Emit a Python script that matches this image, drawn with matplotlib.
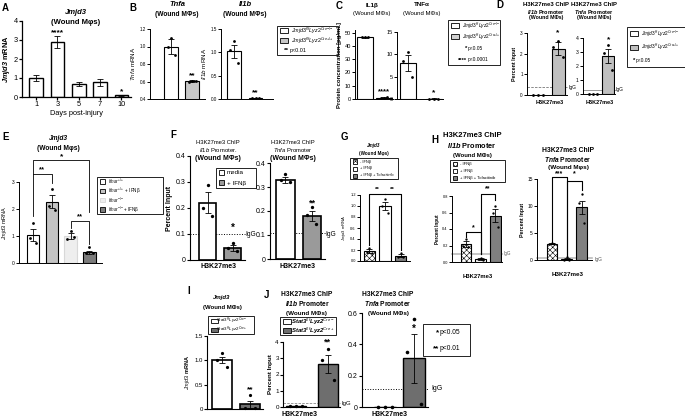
import matplotlib.pyplot as plt
import numpy as np
from matplotlib.patches import Rectangle

plt.rcParams["font.family"] = ["Liberation Sans", "DejaVu Sans"]
plt.rcParams["mathtext.fontset"] = "custom"
plt.rcParams["mathtext.rm"] = "Liberation Sans"
plt.rcParams["mathtext.it"] = "Liberation Sans:italic"
plt.rcParams["mathtext.bf"] = "Liberation Sans:bold"
plt.rcParams["mathtext.bfit"] = "Liberation Sans:italic:bold"
plt.rcParams["hatch.linewidth"] = 0.4

# ---- data ----
# A: Jmjd3 over days post-injury
a_days = ["1", "3", "5", "7", "10"]
a_mean = [1.0, 2.9, 0.68, 0.78, 0.08]
a_sem = [0.14, 0.3, 0.1, 0.18, 0.03]

# B: Jmjd3 f/f Lyz2 Cre-/- vs Cre+/+
b_tnfa_mean = [1.0, 0.605]
b_tnfa_sem = [0.09, 0.008]
b_tnfa_pts = [[1.1, 0.99, 0.9], [0.61, 0.6, 0.61]]
b_il1b_mean = [1.02, 0.02]
b_il1b_sem = [0.14, 0.005]
b_il1b_pts = [[1.25, 1.04, 0.78], [0.02, 0.02, 0.02]]

# C: protein (pg/mL)
c_il1b_mean = [46.5, 1.0]
c_il1b_sem = [0.3, 0.3]
c_il1b_pts = [[46.6, 46.4, 46.5], [0.6, 1.1, 1.4]]
c_tnfa_mean = [8.0, 0.1]
c_tnfa_sem = [1.8, 0.05]
c_tnfa_pts = [[10.5, 8.6, 4.9], [0.1, 0.1, 0.1]]

# D: H3K27me3 ChIP
d_il1b_mean = [0.0, 2.25]
d_il1b_sem = [0.0, 0.3]
d_il1b_pts = [[0.0, 0.0, 0.0], [2.6, 2.3, 1.85]]
d_il1b_igg = 0.38
d_tnfa_mean = [0.0, 2.7]
d_tnfa_sem = [0.0, 0.5]
d_tnfa_pts = [[0.0, 0.0, 0.0], [3.5, 2.9, 1.7]]
d_tnfa_igg = 0.3

# E: Ifnar +/+ , +/+ + IFNb, -/-, -/- + IFNb
e_mean = [1.05, 2.27, 1.0, 0.4]
e_sem = [0.22, 0.25, 0.1, 0.05]
e_pts = [[1.5, 0.93, 0.75], [2.75, 2.12, 1.95], [1.18, 0.88, 0.97], [0.58, 0.38, 0.36]]

# F: media vs + IFNb
f_il1b_mean = [0.22, 0.047]
f_il1b_sem = [0.04, 0.012]
f_il1b_pts = [[0.29, 0.2, 0.17], [0.065, 0.045, 0.035]]
f_il1b_igg = 0.1
f_tnfa_mean = [0.33, 0.18]
f_tnfa_sem = [0.012, 0.022]
f_tnfa_pts = [[0.355, 0.33, 0.32], [0.215, 0.185, 0.145]]
f_tnfa_igg = 0.11

# G: - IFNb, + IFNb, + IFNb + Tofacitinib
g_mean = [0.18, 1.0, 0.1]
g_sem = [0.04, 0.08, 0.02]
g_pts = [[0.23, 0.17, 0.15], [1.12, 1.0, 0.88], [0.15, 0.08, 0.08]]

# H
h_il1b_mean = [0.22, 0.04, 0.56]
h_il1b_sem = [0.04, 0.01, 0.08]
h_il1b_pts = [[0.28, 0.2, 0.18], [0.05, 0.04, 0.03], [0.68, 0.6, 0.42]]
h_il1b_igg = 0.1
h_tnfa_mean = [3.0, 0.2, 9.8]
h_tnfa_sem = [0.1, 0.15, 1.2]
h_tnfa_pts = [[3.1, 3.0, 2.9], [0.5, 0.05, 0.05], [12.2, 10.5, 6.8]]
h_tnfa_igg = 0.3

# I: Stat3 f/f Lyz2 Cre- vs Cre+
i_mean = [1.0, 0.1]
i_sem = [0.06, 0.07]
i_pts = [[1.15, 1.0, 0.86], [0.28, 0.02, 0.02]]

# J
j_il1b_mean = [0.05, 2.65]
j_il1b_sem = [0.0, 0.55]
j_il1b_pts = [[0.05, 0.05, 0.05], [3.6, 2.9, 1.65]]
j_il1b_igg = 0.25
j_tnfa_mean = [0.0, 0.31]
j_tnfa_sem = [0.0, 0.155]
j_tnfa_pts = [[0.0, 0.0, 0.0], [0.56, 0.35, 0.02]]
j_tnfa_igg = 0.115

W, H = 685, 418
fig = plt.figure(figsize=(W / 100, H / 100), dpi=100)


def panel(l, t, r, b, xlim, ylim, yticks, fs, lw=0.7, labels=None):
    ax = fig.add_axes([l / W, 1 - b / H, (r - l) / W, (b - t) / H])
    ax.patch.set_alpha(0)
    for s in ("top", "right"):
        ax.spines[s].set_visible(False)
    for s in ("left", "bottom"):
        ax.spines[s].set_linewidth(lw)
    ax.set_xlim(*xlim)
    ax.set_ylim(*ylim)
    ax.set_yticks(yticks)
    if labels is not None:
        ax.set_yticklabels(labels)
    ax.set_xticks([])
    ax.tick_params(axis="y", length=2, width=lw, labelsize=fs, pad=1)
    return ax


def bars(ax, mean, sem, pts, colors, hatches=None, width=0.65, lw=0.8, ms=2.0, spread=0.17,
         edges=None):
    hatches = hatches or [None] * len(mean)
    edges = edges or ["black"] * len(mean)
    for i in range(len(mean)):
        ax.bar(i, mean[i], width, color=colors[i], edgecolor=edges[i], linewidth=lw,
               hatch=hatches[i], zorder=2)
    ax.errorbar(range(len(mean)), mean, yerr=sem, fmt="none", ecolor="black",
                elinewidth=0.6, capsize=2, capthick=0.6, zorder=3)
    if pts is not None:
        for i, p in enumerate(pts):
            off = np.array([0, -spread, spread])
            ax.plot(i + off, p, "o", ms=ms, color="black", mew=0, zorder=4, clip_on=False)


def bracket(ax, x1, x2, y, y1, y2, lw=0.6):
    ax.plot([x1, x1, x2, x2], [y1, y, y, y2], color="black", lw=lw, clip_on=False)


def star(ax, x, y, s, fs=6):
    ax.text(x, y, s, ha="center", va="bottom", fontsize=fs, fontweight="bold")


def txt(x, y, s, fs=5, **kw):
    kw.setdefault("ha", "center")
    kw.setdefault("va", "center")
    fig.text(x / W, 1 - y / H, s, fontsize=fs, **kw)


def igg(ax, y, style, color, lw=0.6):
    ax.axhline(y, ls=style, color=color, lw=lw, zorder=1, clip_on=False)


def key(l, t, r, b, rows, fs, sw=7, sh=5, tx=None):
    fig.add_artist(Rectangle((l / W, 1 - b / H), (r - l) / W, (b - t) / H,
                             transform=fig.transFigure, fill=False, lw=0.6, ec="black"))
    tx = tx if tx is not None else l + sw + 6
    n = len(rows)
    step = (b - t) / n
    for k, row in enumerate(rows):
        y = t + step * (k + 0.5)
        if row[0] == "patch":
            _, face, hatch, label = row[:4]
            ec = row[4] if len(row) > 4 else "black"
            fig.add_artist(Rectangle(((l + 3) / W, 1 - (y + sh / 2) / H), sw / W, sh / H,
                                     transform=fig.transFigure, fc=face, ec=ec,
                                     lw=0.6, hatch=hatch))
            txt(tx, y, label, fs, ha="left")
        else:
            _, stars, label, sx = row
            txt(sx, y + 0.6, stars, fs * 1.2, ha="right", fontweight="bold")
            txt(sx + 1, y, label, fs, ha="left")


def plabel(x, y, s):
    txt(x, y, s, 7, fontweight="bold")


lyz_m = r"$\mathit{Jmjd3}^{f/f}\mathit{Lyz2}^{Cre{-}/{-}}$"
lyz_p = r"$\mathit{Jmjd3}^{f/f}\mathit{Lyz2}^{Cre{+}/{+}}$"

# ---------- A ----------
plabel(5, 8, "A")
txt(76, 13, "Jmjd3", 5.5, fontweight="bold", style="italic")
txt(76, 23, "(Wound Mφs)", 5.5, fontweight="bold")
axA = panel(22, 21, 131, 97, (-0.66, 4.45), (0, 4), [0, 1, 2, 3, 4], 5.3, lw=0.9)
bars(axA, a_mean, a_sem, None, ["white"] * 5, width=0.64, lw=1.0)
axA.set_xticks(range(5))
axA.set_xticklabels(a_days)
axA.tick_params(axis="x", length=2, width=0.9, labelsize=5.3, pad=1)
axA.set_xlabel("Days post-injury", fontsize=5.3, labelpad=1)
axA.set_ylabel(r"$\mathbfit{Jmjd3}$ mRNA", fontsize=5.3, fontweight="bold", labelpad=1)
star(axA, 1, 3.2, "****", 6)
star(axA, 4, 0.1, "*", 6)

# ---------- B ----------
plabel(133, 8, "B")
txt(177, 5, "Tnfa", 5.5, fontweight="bold", style="italic")
txt(177, 15, "(Wound MΦs)", 4.8, fontweight="bold")
axB1 = panel(150, 29, 205, 99, (-1.0, 1.6), (0.4, 1.2), [0.4, 0.6, 0.8, 1.0, 1.2], 3.3,
             labels=["0.4", "0.6", "0.8", "1.0", "1.2"])
bars(axB1, b_tnfa_mean, b_tnfa_sem, b_tnfa_pts, ["white", "#c8c8c8"], width=0.67)
axB1.set_ylabel(r"$\mathit{Tnfa}$ mRNA", fontsize=4.5, labelpad=2)
star(axB1, 1, 0.63, "**", 6)

txt(245, 5, "Il1b", 5.5, fontweight="bold", style="italic")
txt(245, 15, "(Wound MΦs)", 4.8, fontweight="bold")
axB2 = panel(221, 29, 273, 99, (-0.6, 1.8), (0, 1.5), [0, 0.5, 1.0, 1.5], 3.3,
             labels=["0.0", "0.5", "1.0", "1.5"])
bars(axB2, b_il1b_mean, b_il1b_sem, b_il1b_pts, ["white", "#c8c8c8"], width=0.62)
axB2.set_ylabel(r"$\mathit{Il1b}$ mRNA", fontsize=4.5, labelpad=2)
star(axB2, 1, 0.05, "**", 6)

key(277, 26, 338, 55, [("patch", "white", None, lyz_m),
                       ("patch", "#c8c8c8", None, lyz_p),
                       ("stars", "**", "p<0.01", 289)], 3.9, sw=8, sh=5)

# ---------- C ----------
plabel(339, 6, "C")
txt(372, 5, "IL1β", 4.5, fontweight="bold")
txt(372, 13, "(Wound MΦs)", 4.3)
axC1 = panel(355, 30, 393, 99, (-0.53, 1.47), (0, 52), [0, 10, 20, 30, 40, 50], 4.0)
bars(axC1, c_il1b_mean, c_il1b_sem, c_il1b_pts, ["white", "#d0d0d0"], width=0.8)
axC1.set_ylabel("Protein concentration [pg/mL]", fontsize=4.3, fontweight="bold", labelpad=2)
star(axC1, 1, 2.5, "****", 5.5)

txt(422, 5, "TNFα", 4.5, fontweight="bold")
txt(422, 13, "(Wound MΦs)", 4.3)
axC2 = panel(397, 32, 443, 99, (-0.42, 1.35), (0, 15), [0, 5, 10, 15], 4.0)
bars(axC2, c_tnfa_mean, c_tnfa_sem, c_tnfa_pts, ["white", "#d0d0d0"], width=0.6)
star(axC2, 1, 0.6, "*", 6)

key(448, 20, 500, 65, [("patch", "white", None, lyz_m),
                       ("patch", "#d0d0d0", None, lyz_p),
                       ("stars", "*", "p<0.05", 467),
                       ("stars", "****", "p<0.0001", 467)], 3.5, sw=8, sh=5)

# ---------- D ----------
plabel(500, 5, "D")
txt(546, 5, "H3K27me3 ChIP", 4.3, fontweight="bold")
txt(546, 12, r"$\mathbfit{Il1b}$ Promoter", 4.0, fontweight="bold")
txt(546, 18, "(Wound MΦs)", 3.8, fontweight="bold")
axD1 = panel(527, 33, 567, 95, (-0.55, 1.45), (0, 3), [0, 1, 2, 3], 3.3)
bars(axD1, d_il1b_mean, d_il1b_sem, d_il1b_pts, ["white", "#c0c0c0"], width=0.65, spread=0.25)
igg(axD1, d_il1b_igg, (0, (3, 1.5)), "#777777")
axD1.set_ylabel("Percent Input", fontsize=3.8, fontweight="bold", labelpad=2)
txt(572, 87, "IgG", 3.5)
txt(550, 102, "H3K27me3", 4.0, fontweight="bold")
star(axD1, 1, 2.85, "*", 6)

txt(594, 5, "H3K27me3 ChIP", 4.3, fontweight="bold")
txt(594, 12, r"$\mathbfit{Tnfa}$ Promoter", 4.0, fontweight="bold")
txt(594, 18, "(Wound MΦs)", 3.8, fontweight="bold")
axD2 = panel(583, 38, 615, 94, (-0.65, 1.45), (0, 4), [0, 1, 2, 3, 4], 3.6)
bars(axD2, d_tnfa_mean, d_tnfa_sem, d_tnfa_pts, ["white", "#c0c0c0"], width=0.75, spread=0.25)
igg(axD2, d_tnfa_igg, "-", "#888888")
txt(619, 90, "IgG", 3.5)
txt(600, 102, "H3K27me3", 4.0, fontweight="bold")
star(axD2, 1, 3.6, "*", 6)

key(627, 27, 685, 67, [("patch", "white", None, lyz_m),
                       ("patch", "#c0c0c0", None, lyz_p),
                       ("stars", "*", "p<0.05", 635)], 3.5, sw=8, sh=5)

# ---------- E ----------
plabel(6, 137, "E")
txt(58, 139, "Jmjd3", 4.8, fontweight="bold", style="italic")
txt(58, 148, "(Wound Mφs)", 4.8, fontweight="bold")
axE = panel(19, 182, 102, 263, (-0.74, 3.67), (0, 3), [0, 1, 2, 3], 3.5)
bars(axE, e_mean, e_sem, e_pts, ["white", "#c4c4c4", "#eeeeee", "#7c7c7c"], width=0.66,
     edges=["black", "black", "#d8d8d8", "black"])
axE.set_ylabel(r"$\mathit{Jmjd3}$ mRNA", fontsize=4.0, labelpad=2)
bracket(axE, 0, 1, 3.3, 1.75, 2.95)
star(axE, 0.5, 3.32, "**", 5.5)
bracket(axE, 0, 3, 3.8, 3.3, 1.9)
star(axE, 1.5, 3.82, "*", 6)
bracket(axE, 2, 3, 1.55, 1.3, 0.7)
star(axE, 2.5, 1.57, "**", 5.5)
key(97, 177, 163, 214, [("patch", "white", None, r"$Ifnar^{+/+}$"),
                        ("patch", "#c4c4c4", None, r"$Ifnar^{+/+}$ + IFNβ"),
                        ("patch", "#eeeeee", None, r"$Ifnar^{-/-}$", "#d8d8d8"),
                        ("patch", "#7c7c7c", None, r"$Ifnar^{-/-}$+ IFNβ")], 3.3, sw=5, sh=4.5)

# ---------- F ----------
plabel(173, 135, "F")
txt(218, 142, "H3K27me3 ChIP", 4.2)
txt(218, 150, r"$\mathit{Il1b}$ Promoter.", 4.2)
txt(218, 158, "(Wound MΦs)", 5.0, fontweight="bold")
axF1 = panel(190, 156, 245, 260, (-0.7, 1.5), (0, 0.4), [0, 0.1, 0.2, 0.3, 0.4], 5.0,
             labels=["0", "0.1", "0.2", "0.3", "0.4"], lw=0.8)
bars(axF1, f_il1b_mean, f_il1b_sem, f_il1b_pts, ["white", "#9a9a9a"], width=0.68, lw=1.2, ms=2.4)
igg(axF1, f_il1b_igg, ":", "black", 0.7)
axF1.set_ylabel("Percent Input", fontsize=5.0, fontweight="bold", labelpad=2)
txt(251, 234, "IgG", 4.8)
txt(218, 266, "H3K27me3", 5.0, fontweight="bold")
star(axF1, 1, 0.105, "*", 7)
key(216, 168, 256, 188, [("patch", "white", None, "media"),
                         ("patch", "#9a9a9a", None, "+ IFNβ")], 4.5, sw=5, sh=5)

txt(293, 142, "H3K27me3 ChIP", 4.2)
txt(293, 150, r"$\mathit{Tnfa}$ Promoter", 4.2)
txt(293, 158, "(Wound MΦs)", 5.0, fontweight="bold")
axF2 = panel(270, 163, 325, 259, (-0.58, 1.49), (0, 0.4), [0, 0.1, 0.2, 0.3, 0.4], 5.0,
             labels=["0", "0.1", "0.2", "0.3", "0.4"], lw=0.8)
bars(axF2, f_tnfa_mean, f_tnfa_sem, f_tnfa_pts, ["white", "#9a9a9a"], width=0.7, lw=1.2, ms=2.4)
igg(axF2, f_tnfa_igg, ":", "black", 0.7)
txt(331, 234, "IgG", 4.8)
txt(297, 266, "H3K27me3", 5.0, fontweight="bold")
star(axF2, 1, 0.215, "**", 6.5)

# ---------- G ----------
plabel(344, 137, "G")
txt(374, 145, "Jmjd3", 3.3, fontweight="bold", style="italic")
txt(374, 153, "(Wound Mφs)", 3.3, fontweight="bold")
key(350, 158, 398, 179, [("patch", "white", "xxxxxx", "- IFNβ"),
                         ("patch", "white", None, "+ IFNβ"),
                         ("patch", "#808080", None, "+ IFNβ + Tofacitinib")], 2.8, sw=4, sh=4)
axG = panel(360, 195, 410, 261, (-0.6, 2.6), (0, 1.2), [0, 0.2, 0.4, 0.6, 0.8, 1.0, 1.2], 2.8,
            labels=["0.0", "0.2", "0.4", "0.6", "0.8", "1.0", "1.2"])
bars(axG, g_mean, g_sem, g_pts, ["white", "white", "#808080"], ["xxxxxx", None, None],
     width=0.72, ms=1.7)
axG.set_ylabel(r"$\mathit{Jmjd3}$ mRNA", fontsize=3.0, labelpad=1.5)
bracket(axG, 0, 1, 1.22, 0.3, 1.22, 0.8)
bracket(axG, 1, 2, 1.22, 1.22, 0.2, 0.8)
star(axG, 0.5, 1.25, "**", 4.5)
star(axG, 1.5, 1.25, "**", 4.5)

# ---------- H ----------
plabel(435, 140, "H")
txt(472, 135, "H3K27me3 ChIP", 5.5, fontweight="bold")
txt(472, 146, r"$\mathbfit{Il1b}$ Promoter", 5.3, fontweight="bold")
txt(472, 155, "(Wound MΦs)", 4.3, fontweight="bold")
key(450, 160, 505, 182, [("patch", "white", "xxxxxx", "- IFNβ"),
                         ("patch", "white", None, "+ IFNβ"),
                         ("patch", "#808080", None, "+ IFNβ + Tofacitinib")], 3.0, sw=4, sh=4)
axH1 = panel(452, 196, 502, 262, (-0.95, 2.45), (0, 0.8), [0, 0.2, 0.4, 0.6, 0.8], 2.8,
             labels=["0.0", "0.2", "0.4", "0.6", "0.8"])
bars(axH1, h_il1b_mean, h_il1b_sem, h_il1b_pts, ["white", "white", "#808080"],
     ["xxxxxx", None, None], width=0.72, ms=1.7)
igg(axH1, h_il1b_igg, "-", "#bbbbbb", 1.2)
axH1.set_ylabel("Percent Input", fontsize=3.3, fontweight="bold", labelpad=1.5)
txt(507, 254, "IgG", 3.3, color="#555555")
txt(478, 276, "H3K27me3", 4.2, fontweight="bold")
bracket(axH1, 0, 1, 0.36, 0.3, 0.1, 0.8)
star(axH1, 0.5, 0.37, "*", 5)
bracket(axH1, 1, 2, 0.82, 0.1, 0.75, 0.8)
star(axH1, 1.5, 0.84, "**", 5)

txt(568, 151, "H3K27me3 ChIP", 4.9, fontweight="bold")
txt(568, 159.5, r"$\mathbfit{Tnfa}$ Promoter", 4.8, fontweight="bold")
txt(568, 168, "(Wound Mφs)", 4.6, fontweight="bold")
axH2 = panel(537, 179, 592, 260, (-1.0, 2.7), (0, 15), [0, 5, 10, 15], 3.5)
bars(axH2, h_tnfa_mean, h_tnfa_sem, h_tnfa_pts, ["white", "white", "#808080"],
     ["xxxxxx", None, None], width=0.72, ms=1.7)
igg(axH2, h_tnfa_igg, "-", "#bbbbbb", 1.2)
axH2.set_ylabel("Percent Input", fontsize=3.8, fontweight="bold", labelpad=1.5)
txt(598, 259, "IgG", 3.5, color="#555555")
txt(568, 275, "H3K27me3", 4.5, fontweight="bold")
bracket(axH2, 0, 1, 15.3, 3.4, 0.8, 0.8)
star(axH2, 0.5, 15.4, "***", 5)
bracket(axH2, 1, 2, 14.6, 0.8, 13.0, 0.8)
star(axH2, 1.5, 15.4, "*", 5)

# ---------- I ----------
plabel(189, 291, "I")
txt(222, 298, "Jmjd3", 4.3, fontweight="bold", style="italic")
txt(222, 307, "(Wound MΦs)", 4.3, fontweight="bold")
key(208, 316, 254, 334, [("patch", "white", None, r"$Stat3^{f/f}Lyz2^{Cre-}$"),
                         ("patch", "#6e6e6e", None, r"$Stat3^{f/f}Lyz2^{Cre+}$")],
    3.2, sw=7, sh=4, tx=216)
axI = panel(207, 336, 263, 409, (-0.54, 1.46), (0, 1.5), [0, 0.5, 1.0, 1.5], 4.3,
            labels=["0", "0.5", "1.0", "1.5"], lw=0.8)
bars(axI, i_mean, i_sem, i_pts, ["white", "#6e6e6e"], width=0.72, lw=1.2, ms=2.3)
axI.set_ylabel(r"$\mathit{Jmjd3}$ mRNA", fontsize=4.0, fontweight="bold", labelpad=2)
star(axI, 1, 0.33, "**", 6)

# ---------- J ----------
plabel(267, 295, "J")
txt(307, 295, "H3K27me3 ChIP", 4.8, fontweight="bold")
txt(307, 304, r"$\mathbfit{Il1b}$ Promoter", 4.8, fontweight="bold")
txt(307, 313, "(Wound MΦs)", 4.5, fontweight="bold")
key(280, 317, 336, 335, [("patch", "white", None, r"$\mathbfit{Stat3}^{f/f}\mathbfit{Lyz2}^{Cre-}$"),
                         ("patch", "#6e6e6e", None, r"$\mathbfit{Stat3}^{f/f}\mathbfit{Lyz2}^{Cre+}$")],
    4.3, sw=8, sh=5, tx=291)
axJ1 = panel(283, 342, 340, 407, (-0.41, 1.38), (0, 4), [0, 1, 2, 3, 4], 4.5, lw=0.8)
bars(axJ1, j_il1b_mean, j_il1b_sem, j_il1b_pts, ["white", "#6e6e6e"], width=0.62, lw=1.0,
     ms=2.4, spread=0.2)
igg(axJ1, j_il1b_igg, (0, (3, 1.5)), "#888888")
axJ1.set_ylabel("Percent Input", fontsize=4.5, fontweight="bold", labelpad=2)
txt(346, 403, "IgG", 4.3)
txt(300, 414, "H3K27me3", 5.0, fontweight="bold")
star(axJ1, 1, 3.75, "**", 6.5)

txt(388, 295, "H3K27me3 ChIP", 4.8, fontweight="bold")
txt(388, 304, r"$\mathbfit{Tnfa}$ Promoter", 4.8, fontweight="bold")
txt(388, 313, "(Wound MΦs)", 4.5, fontweight="bold")
axJ2 = panel(362, 313, 428, 407, (-0.79, 1.48), (0, 0.6), [0, 0.2, 0.4, 0.6], 5.0,
             labels=["0", "0.2", "0.4", "0.6"], lw=0.8)
bars(axJ2, j_tnfa_mean, j_tnfa_sem, j_tnfa_pts, ["white", "#6e6e6e"], width=0.76, lw=1.0,
     ms=2.6, spread=0.25)
igg(axJ2, j_tnfa_igg, ":", "black", 0.7)
txt(437, 389, "IgG", 5.0)
txt(390, 414, "H3K27me3", 5.0, fontweight="bold")
star(axJ2, 1, 0.465, "*", 7)

key(423, 324, 470, 356, [("stars", "*", "p<0.05", 439),
                         ("stars", "**", "p<0.01", 439)], 4.8)

fig.savefig("out.png", dpi=100)
